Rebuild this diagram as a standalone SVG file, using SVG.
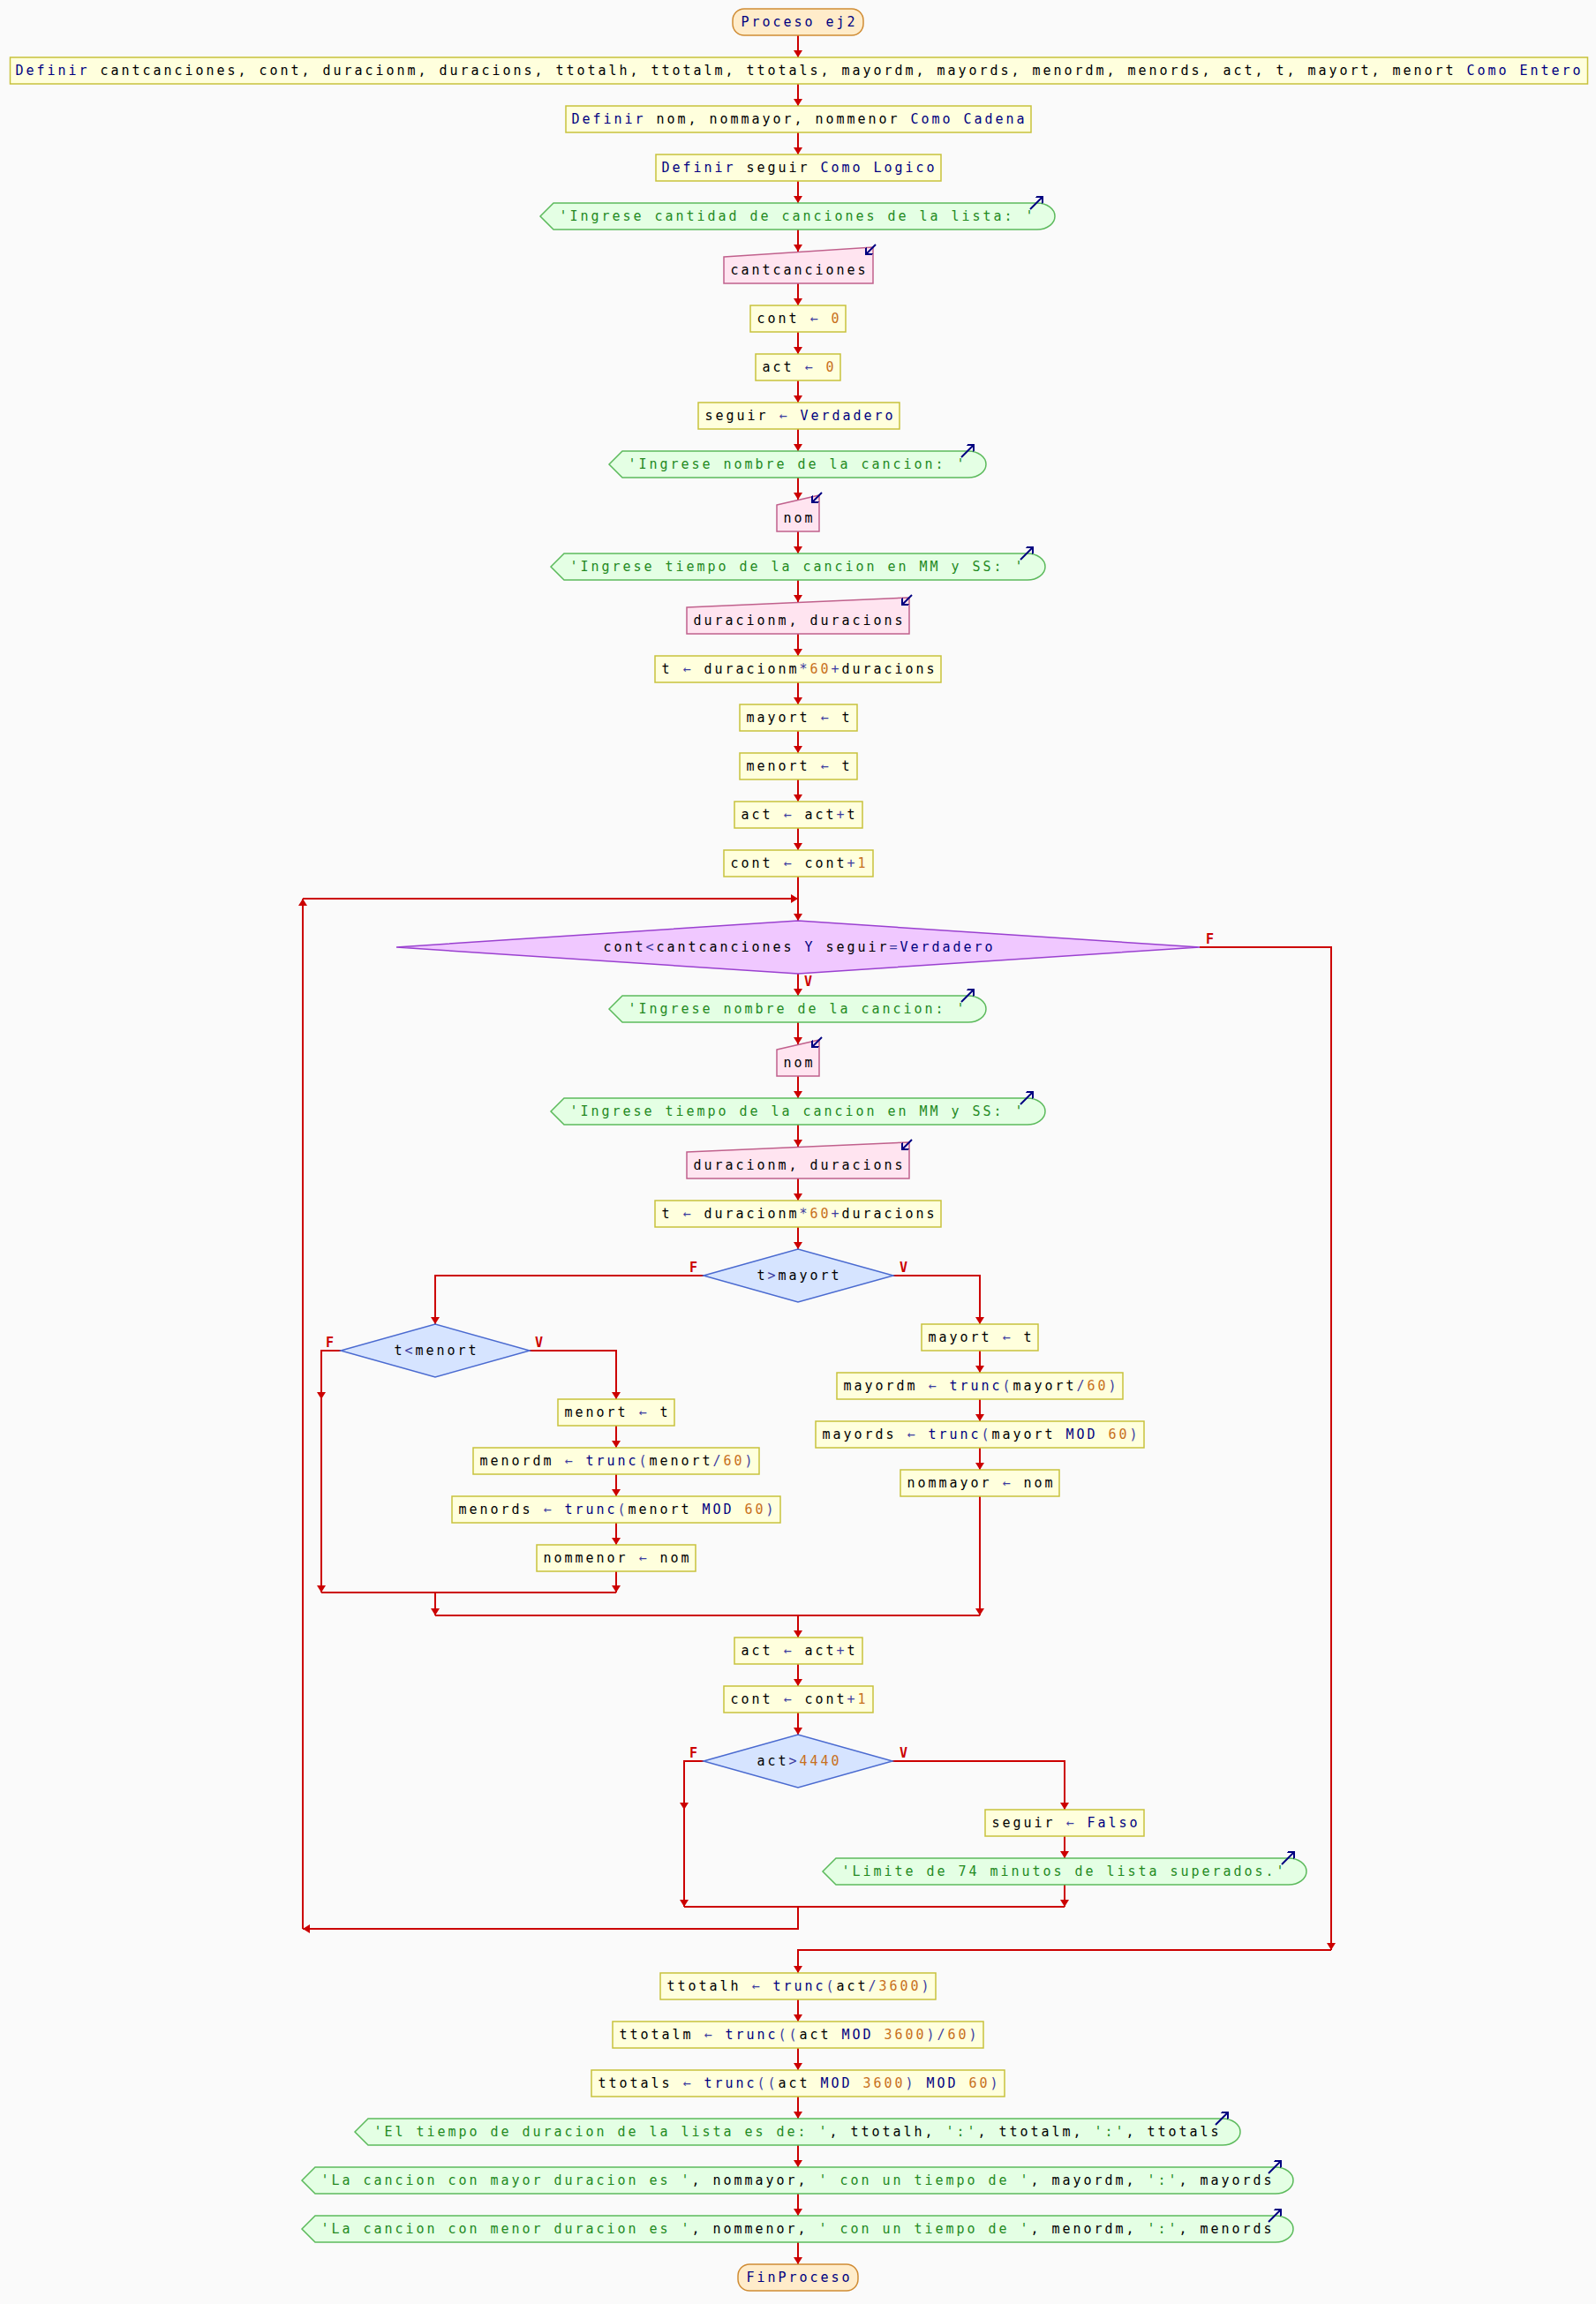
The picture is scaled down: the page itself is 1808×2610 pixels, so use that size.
<svg xmlns="http://www.w3.org/2000/svg" width="1808" height="2610" viewBox="0 0 1808 2610">
  <defs>
    <style>
      .pr { fill: #ffffdd; stroke: #c8c23c; stroke-width: 1.5; }
      .in { fill: #ffe4f0; stroke: #c0608c; stroke-width: 1.5; }
      .out { fill: #e4ffe4; stroke: #5cba5c; stroke-width: 1.5; }
      .wh { fill: #f0c8ff; stroke: #9a40d0; stroke-width: 1.5; }
      .if { fill: #d6e4ff; stroke: #4a6ad0; stroke-width: 1.5; }
      .term { fill: #ffecca; stroke: #d08c34; stroke-width: 1.5; }
      .cn { fill: none; stroke: #cc0000; stroke-width: 2; }
      .ic { fill: none; stroke: #000080; stroke-width: 2; marker-end: url(#icon-head); }
      .t { font-family: "DejaVu Sans Mono", "Liberation Mono", monospace; font-size: 15px; letter-spacing: 2.97px; text-anchor: middle; fill: #000000; }
      .k { fill: #000080; }
      .n { fill: #c8701c; }
      .s { fill: #238a1e; }
      .o { fill: #3c3ca0; }
      .lbl { font-family: "DejaVu Sans Mono", monospace; font-size: 15px; font-weight: bold; fill: #cc0000; }
    </style>
    <marker id="arrow" viewBox="0 0 8 10" refX="8" refY="5" markerWidth="8" markerHeight="10" markerUnits="userSpaceOnUse" orient="auto">
      <path d="M0,0 L8,5 L0,10 Z" fill="#cc0000"/>
    </marker>
    <marker id="icon-head" viewBox="0 0 7 12" refX="6" refY="6" markerWidth="7" markerHeight="11" markerUnits="userSpaceOnUse" orient="auto">
      <path d="M0,0 L6,6 L0,12" fill="none" stroke="#000080" stroke-width="2.2"/>
    </marker>
  </defs>

  <rect width="1808" height="2610" fill="#fafafa"/>

  <!-- connectors -->
  <g id="connectors" class="cn" marker-end="url(#arrow)">
    <path d="M904,40 V65"/>
    <path d="M904,95 V120"/>
    <path d="M904,150 V175"/>
    <path d="M904,205 V230"/>
    <path d="M904,260 V285"/>
    <path d="M904,321 V346"/>
    <path d="M904,376 V401"/>
    <path d="M904,431 V456"/>
    <path d="M904,486 V511"/>
    <path d="M904,541 V566"/>
    <path d="M904,602 V627"/>
    <path d="M904,657 V682"/>
    <path d="M904,718 V743"/>
    <path d="M904,773 V798"/>
    <path d="M904,828 V853"/>
    <path d="M904,883 V908"/>
    <path d="M904,938 V963"/>
    <path d="M904,993 V1043"/>
    <!-- loop body -->
    <path d="M904,1103 V1128"/>
    <path d="M904,1158 V1183"/>
    <path d="M904,1219 V1244"/>
    <path d="M904,1274 V1299"/>
    <path d="M904,1335 V1360"/>
    <path d="M904,1390 V1415"/>
    <!-- t>mayort branches -->
    <path d="M797,1445 H493 V1500"/>
    <path d="M1012,1445 H1110 V1500"/>
    <path d="M1110,1530 V1555"/>
    <path d="M1110,1585 V1610"/>
    <path d="M1110,1640 V1665"/>
    <path d="M1110,1695 V1830"/>
    <!-- t<menort branches -->
    <path d="M600,1530 H698 V1585"/>
    <path d="M698,1615 V1640"/>
    <path d="M698,1670 V1695"/>
    <path d="M698,1725 V1750"/>
    <path d="M698,1780 V1804"/>
    <path d="M386,1530 H364 V1585"/>
    <path d="M364,1585 V1804"/>
    <path d="M364,1804 H698" marker-end="none"/>
    <path d="M493,1804 V1830"/>
    <path d="M493,1830 H1110" marker-end="none"/>
    <path d="M904,1830 V1855"/>
    <path d="M904,1885 V1910"/>
    <path d="M904,1940 V1965"/>
    <!-- act>4440 branches -->
    <path d="M797,1995 H775 V2050"/>
    <path d="M775,2050 V2160"/>
    <path d="M1011,1995 H1206 V2050"/>
    <path d="M1206,2080 V2105"/>
    <path d="M1206,2135 V2160"/>
    <path d="M775,2160 H1206" marker-end="none"/>
    <!-- loop back -->
    <path d="M904,2160 V2185 H343"/>
    <path d="M343,2185 V1018"/>
    <path d="M343,1018 H904"/>
    <!-- loop exit -->
    <path d="M1359,1073 H1508 V2209"/>
    <path d="M1508,2209 H904 V2235"/>
    <path d="M904,2265 V2290"/>
    <path d="M904,2320 V2345"/>
    <path d="M904,2375 V2400"/>
    <path d="M904,2430 V2455"/>
    <path d="M904,2485 V2510"/>
    <path d="M904,2540 V2565"/>
  </g>

  <!-- branch labels -->
  <g id="labels">
    <text class="lbl" x="1366" y="1069">F</text>
    <text class="lbl" x="911" y="1117">V</text>
    <text class="lbl" x="781" y="1441">F</text>
    <text class="lbl" x="1019" y="1441">V</text>
    <text class="lbl" x="369" y="1526">F</text>
    <text class="lbl" x="606" y="1526">V</text>
    <text class="lbl" x="781" y="1991">F</text>
    <text class="lbl" x="1019" y="1991">V</text>
  </g>

  <g id="start">
    <rect class="term" x="830" y="10" width="148" height="30" rx="13"/>
    <text class="t" x="905.5" y="30"><tspan class="k">Proceso ej2</tspan></text>
  </g>
  <g id="def-enteros">
    <rect class="pr" x="11.5" y="65" width="1787" height="30"/>
    <text class="t" x="905.5" y="85"><tspan class="k">Definir</tspan> cantcanciones, cont, duracionm, duracions, ttotalh, ttotalm, ttotals, mayordm, mayords, menordm, menords, act, t, mayort, menort <tspan class="k">Como Entero</tspan></text>
  </g>
  <g id="def-cadenas">
    <rect class="pr" x="641" y="120" width="527" height="30"/>
    <text class="t" x="905.5" y="140"><tspan class="k">Definir</tspan> nom, nommayor, nommenor <tspan class="k">Como Cadena</tspan></text>
  </g>
  <g id="def-logico">
    <rect class="pr" x="743" y="175" width="323" height="30"/>
    <text class="t" x="905.5" y="195"><tspan class="k">Definir</tspan> seguir <tspan class="k">Como Logico</tspan></text>
  </g>
  <g id="out-cantidad">
    <path class="out" d="M612,245 L627,230 H1175 A20,15 0 0 1 1175,260 H627 Z"/>
    <path class="ic" d="M1167,237 L1181,223"/>
    <text class="t" x="903.5" y="250"><tspan class="s">'Ingrese cantidad de canciones de la lista: '</tspan></text>
  </g>
  <g id="in-cantcanciones">
    <path class="in" d="M820,291 L989,280 V321 H820 Z"/>
    <path class="ic" d="M992,277 L981,288"/>
    <text class="t" x="905.5" y="311">cantcanciones</text>
  </g>
  <g id="cont-init">
    <rect class="pr" x="850" y="346" width="108" height="30"/>
    <text class="t" x="905.5" y="366">cont <tspan class="o">←</tspan> <tspan class="n">0</tspan></text>
  </g>
  <g id="act-init">
    <rect class="pr" x="856" y="401" width="96" height="30"/>
    <text class="t" x="905.5" y="421">act <tspan class="o">←</tspan> <tspan class="n">0</tspan></text>
  </g>
  <g id="seguir-init">
    <rect class="pr" x="791" y="456" width="228" height="30"/>
    <text class="t" x="906.5" y="476">seguir <tspan class="o">←</tspan> <tspan class="k">Verdadero</tspan></text>
  </g>
  <g id="out-nombre-1">
    <path class="out" d="M690,526 L705,511 H1097 A20,15 0 0 1 1097,541 H705 Z"/>
    <path class="ic" d="M1089,518 L1103,504"/>
    <text class="t" x="903.5" y="531"><tspan class="s">'Ingrese nombre de la cancion: '</tspan></text>
  </g>
  <g id="in-nom-1">
    <path class="in" d="M880,572 L928,561 V602 H880 Z"/>
    <path class="ic" d="M931,558 L920,569"/>
    <text class="t" x="905.5" y="592">nom</text>
  </g>
  <g id="out-tiempo-1">
    <path class="out" d="M624,642 L639,627 H1164 A20,15 0 0 1 1164,657 H639 Z"/>
    <path class="ic" d="M1156,634 L1170,620"/>
    <text class="t" x="903.5" y="647"><tspan class="s">'Ingrese tiempo de la cancion en MM y SS: '</tspan></text>
  </g>
  <g id="in-duracion-1">
    <path class="in" d="M778,688 L1030,677 V718 H778 Z"/>
    <path class="ic" d="M1033,674 L1022,685"/>
    <text class="t" x="905.5" y="708">duracionm, duracions</text>
  </g>
  <g id="t-calc-1">
    <rect class="pr" x="742" y="743" width="324" height="30"/>
    <text class="t" x="905.5" y="763">t <tspan class="o">←</tspan> duracionm<tspan class="o">*</tspan><tspan class="n">60</tspan><tspan class="o">+</tspan>duracions</text>
  </g>
  <g id="mayort-init">
    <rect class="pr" x="838" y="798" width="133" height="30"/>
    <text class="t" x="905.5" y="818">mayort <tspan class="o">←</tspan> t</text>
  </g>
  <g id="menort-init">
    <rect class="pr" x="838" y="853" width="133" height="30"/>
    <text class="t" x="905.5" y="873">menort <tspan class="o">←</tspan> t</text>
  </g>
  <g id="act-sum-1">
    <rect class="pr" x="832" y="908" width="145" height="30"/>
    <text class="t" x="905.5" y="928">act <tspan class="o">←</tspan> act<tspan class="o">+</tspan>t</text>
  </g>
  <g id="cont-inc-1">
    <rect class="pr" x="820" y="963" width="169" height="30"/>
    <text class="t" x="905.5" y="983">cont <tspan class="o">←</tspan> cont<tspan class="o">+</tspan><tspan class="n">1</tspan></text>
  </g>
  <g id="while-cond">
    <path class="wh" d="M449,1073 L904,1043 L1359,1073 L904,1103 Z"/>
    <text class="t" x="905.5" y="1078">cont<tspan class="o">&lt;</tspan>cantcanciones <tspan class="k">Y</tspan> seguir<tspan class="o">=</tspan><tspan class="k">Verdadero</tspan></text>
  </g>
  <g id="out-nombre-2">
    <path class="out" d="M690,1143 L705,1128 H1097 A20,15 0 0 1 1097,1158 H705 Z"/>
    <path class="ic" d="M1089,1135 L1103,1121"/>
    <text class="t" x="903.5" y="1148"><tspan class="s">'Ingrese nombre de la cancion: '</tspan></text>
  </g>
  <g id="in-nom-2">
    <path class="in" d="M880,1189 L928,1178 V1219 H880 Z"/>
    <path class="ic" d="M931,1175 L920,1186"/>
    <text class="t" x="905.5" y="1209">nom</text>
  </g>
  <g id="out-tiempo-2">
    <path class="out" d="M624,1259 L639,1244 H1164 A20,15 0 0 1 1164,1274 H639 Z"/>
    <path class="ic" d="M1156,1251 L1170,1237"/>
    <text class="t" x="903.5" y="1264"><tspan class="s">'Ingrese tiempo de la cancion en MM y SS: '</tspan></text>
  </g>
  <g id="in-duracion-2">
    <path class="in" d="M778,1305 L1030,1294 V1335 H778 Z"/>
    <path class="ic" d="M1033,1291 L1022,1302"/>
    <text class="t" x="905.5" y="1325">duracionm, duracions</text>
  </g>
  <g id="t-calc-2">
    <rect class="pr" x="742" y="1360" width="324" height="30"/>
    <text class="t" x="905.5" y="1380">t <tspan class="o">←</tspan> duracionm<tspan class="o">*</tspan><tspan class="n">60</tspan><tspan class="o">+</tspan>duracions</text>
  </g>
  <g id="if-mayor">
    <path class="if" d="M797,1445 L904,1415 L1012,1445 L904,1475 Z"/>
    <text class="t" x="905.5" y="1450">t<tspan class="o">&gt;</tspan>mayort</text>
  </g>
  <g id="if-menor">
    <path class="if" d="M386,1530 L493,1500 L600,1530 L493,1560 Z"/>
    <text class="t" x="494.5" y="1535">t<tspan class="o">&lt;</tspan>menort</text>
  </g>
  <g id="mayort-set">
    <rect class="pr" x="1044" y="1500" width="132" height="30"/>
    <text class="t" x="1111.5" y="1520">mayort <tspan class="o">←</tspan> t</text>
  </g>
  <g id="mayordm-set">
    <rect class="pr" x="948" y="1555" width="324" height="30"/>
    <text class="t" x="1111.5" y="1575">mayordm <tspan class="o">←</tspan> <tspan class="k">trunc</tspan><tspan class="o">(</tspan>mayort<tspan class="o">/</tspan><tspan class="n">60</tspan><tspan class="o">)</tspan></text>
  </g>
  <g id="mayords-set">
    <rect class="pr" x="924" y="1610" width="372" height="30"/>
    <text class="t" x="1111.5" y="1630">mayords <tspan class="o">←</tspan> <tspan class="k">trunc</tspan><tspan class="o">(</tspan>mayort <tspan class="k">MOD</tspan> <tspan class="n">60</tspan><tspan class="o">)</tspan></text>
  </g>
  <g id="nommayor-set">
    <rect class="pr" x="1020" y="1665" width="180" height="30"/>
    <text class="t" x="1111.5" y="1685">nommayor <tspan class="o">←</tspan> nom</text>
  </g>
  <g id="menort-set">
    <rect class="pr" x="632" y="1585" width="132" height="30"/>
    <text class="t" x="699.5" y="1605">menort <tspan class="o">←</tspan> t</text>
  </g>
  <g id="menordm-set">
    <rect class="pr" x="536" y="1640" width="324" height="30"/>
    <text class="t" x="699.5" y="1660">menordm <tspan class="o">←</tspan> <tspan class="k">trunc</tspan><tspan class="o">(</tspan>menort<tspan class="o">/</tspan><tspan class="n">60</tspan><tspan class="o">)</tspan></text>
  </g>
  <g id="menords-set">
    <rect class="pr" x="512" y="1695" width="372" height="30"/>
    <text class="t" x="699.5" y="1715">menords <tspan class="o">←</tspan> <tspan class="k">trunc</tspan><tspan class="o">(</tspan>menort <tspan class="k">MOD</tspan> <tspan class="n">60</tspan><tspan class="o">)</tspan></text>
  </g>
  <g id="nommenor-set">
    <rect class="pr" x="608" y="1750" width="180" height="30"/>
    <text class="t" x="699.5" y="1770">nommenor <tspan class="o">←</tspan> nom</text>
  </g>
  <g id="act-sum-2">
    <rect class="pr" x="832" y="1855" width="145" height="30"/>
    <text class="t" x="905.5" y="1875">act <tspan class="o">←</tspan> act<tspan class="o">+</tspan>t</text>
  </g>
  <g id="cont-inc-2">
    <rect class="pr" x="820" y="1910" width="169" height="30"/>
    <text class="t" x="905.5" y="1930">cont <tspan class="o">←</tspan> cont<tspan class="o">+</tspan><tspan class="n">1</tspan></text>
  </g>
  <g id="if-limite">
    <path class="if" d="M797,1995 L904,1965 L1011,1995 L904,2025 Z"/>
    <text class="t" x="905.5" y="2000">act<tspan class="o">&gt;</tspan><tspan class="n">4440</tspan></text>
  </g>
  <g id="seguir-falso">
    <rect class="pr" x="1116" y="2050" width="180" height="30"/>
    <text class="t" x="1207.5" y="2070">seguir <tspan class="o">←</tspan> <tspan class="k">Falso</tspan></text>
  </g>
  <g id="out-limite">
    <path class="out" d="M932,2120 L947,2105 H1460 A20,15 0 0 1 1460,2135 H947 Z"/>
    <path class="ic" d="M1452,2112 L1466,2098"/>
    <text class="t" x="1205.5" y="2125"><tspan class="s">'Limite de 74 minutos de lista superados.'</tspan></text>
  </g>
  <g id="ttotalh-set">
    <rect class="pr" x="748" y="2235" width="312" height="30"/>
    <text class="t" x="905.5" y="2255">ttotalh <tspan class="o">←</tspan> <tspan class="k">trunc</tspan><tspan class="o">(</tspan>act<tspan class="o">/</tspan><tspan class="n">3600</tspan><tspan class="o">)</tspan></text>
  </g>
  <g id="ttotalm-set">
    <rect class="pr" x="694" y="2290" width="420" height="30"/>
    <text class="t" x="905.5" y="2310">ttotalm <tspan class="o">←</tspan> <tspan class="k">trunc</tspan><tspan class="o">((</tspan>act <tspan class="k">MOD</tspan> <tspan class="n">3600</tspan><tspan class="o">)/</tspan><tspan class="n">60</tspan><tspan class="o">)</tspan></text>
  </g>
  <g id="ttotals-set">
    <rect class="pr" x="670" y="2345" width="468" height="30"/>
    <text class="t" x="905.5" y="2365">ttotals <tspan class="o">←</tspan> <tspan class="k">trunc</tspan><tspan class="o">((</tspan>act <tspan class="k">MOD</tspan> <tspan class="n">3600</tspan><tspan class="o">)</tspan> <tspan class="k">MOD</tspan> <tspan class="n">60</tspan><tspan class="o">)</tspan></text>
  </g>
  <g id="out-duracion-total">
    <path class="out" d="M402,2415 L417,2400 H1385 A20,15 0 0 1 1385,2430 H417 Z"/>
    <path class="ic" d="M1377,2407 L1391,2393"/>
    <text class="t" x="903.5" y="2420"><tspan class="s">'El tiempo de duracion de la lista es de: '</tspan>, ttotalh, <tspan class="s">':'</tspan>, ttotalm, <tspan class="s">':'</tspan>, ttotals</text>
  </g>
  <g id="out-mayor">
    <path class="out" d="M342,2470 L357,2455 H1445 A20,15 0 0 1 1445,2485 H357 Z"/>
    <path class="ic" d="M1437,2462 L1451,2448"/>
    <text class="t" x="903.5" y="2475"><tspan class="s">'La cancion con mayor duracion es '</tspan>, nommayor, <tspan class="s">' con un tiempo de '</tspan>, mayordm, <tspan class="s">':'</tspan>, mayords</text>
  </g>
  <g id="out-menor">
    <path class="out" d="M342,2525 L357,2510 H1445 A20,15 0 0 1 1445,2540 H357 Z"/>
    <path class="ic" d="M1437,2517 L1451,2503"/>
    <text class="t" x="903.5" y="2530"><tspan class="s">'La cancion con menor duracion es '</tspan>, nommenor, <tspan class="s">' con un tiempo de '</tspan>, menordm, <tspan class="s">':'</tspan>, menords</text>
  </g>
  <g id="end">
    <rect class="term" x="836" y="2565" width="136" height="30" rx="13"/>
    <text class="t" x="905.5" y="2585"><tspan class="k">FinProceso</tspan></text>
  </g>
</svg>
